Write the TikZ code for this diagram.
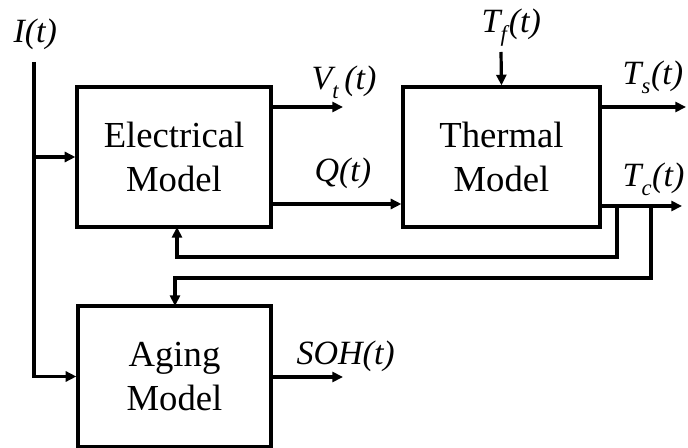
\documentclass[tikz,border=0pt]{standalone}
\usepackage{fontspec}
\setmainfont{Liberation Serif}
\usetikzlibrary{arrows.meta}
\newcommand{\lowsub}[1]{\raisebox{-6.5pt}{\fontsize{17}{17}\selectfont\itshape #1}}
\begin{document}
\begin{tikzpicture}[x=0.75pt,y=-0.75pt,
  line width=2.4pt,
  arr/.style={-{Triangle[length=8pt,width=7.5pt]}},
  blk/.style={draw,rectangle,inner sep=0pt,align=center,font=\fontsize{27.5}{32.5}\selectfont},
  lbl/.style={anchor=base west,inner sep=0pt,font=\fontsize{25.5}{32}\selectfont\itshape}]
\useasboundingbox (0,0) rectangle (688,448);
\node[blk,minimum width=145.5pt,minimum height=105pt] (E) at (174,157) {Electrical\\Model};
\node[blk,minimum width=147.75pt,minimum height=105pt] (T) at (501.5,157) {Thermal\\Model};
\node[blk,minimum width=144.75pt,minimum height=105.75pt] (A) at (174.5,376.5) {Aging\\Model};
% labels
\node[lbl] (Il) at (12,43) {I(t)};
\node[lbl] (Vl) at (310,90) {V\lowsub{t}\,(t)};
\node[lbl] (Ql) at (313,182) {Q(t)};
\node[lbl] (Tfl) at (480,33) {T\lowsub{f}\kern1.5pt(t)};
\node[lbl] (Tsl) at (621,85) {T\lowsub{s}\kern0.5pt(t)};
\node[lbl] (Tcl) at (621,187) {T\lowsub{c}\kern0.5pt(t)};
\node[lbl] (Sl) at (295,365) {SOH(t)};
% coordinates
\coordinate (itop) at (34,62);
\coordinate (vend) at (343,107);
\coordinate (tfs) at (501,52);
\coordinate (tsend) at (686,107);
\coordinate (tcend) at (682,206);
\coordinate (sohend) at (343,377);
\coordinate (fb1) at (617,206);
\coordinate (fb2) at (651,206);
% connectors
\draw[arr] (itop) |- (A.west);
\draw[arr] (itop |- E.west) -- (E.west);
\draw[arr] (E.east |- vend) -- (vend);
\draw[arr] (E.east |- 0,204) -- (T.west |- 0,204);
\draw[arr] (tfs) -- (T.north);
\draw[arr] (T.east |- tsend) -- (tsend);
\draw[arr] (T.east |- tcend) -- (tcend);
\draw[arr] (A.east |- sohend) -- (sohend);
\draw[arr] (fb1) -- (617,257) -- (177,257) -- (177,227);
\draw[arr] (fb2) -- (651,278) -- (175,278) -- (175,306);
\end{tikzpicture}
\end{document}
